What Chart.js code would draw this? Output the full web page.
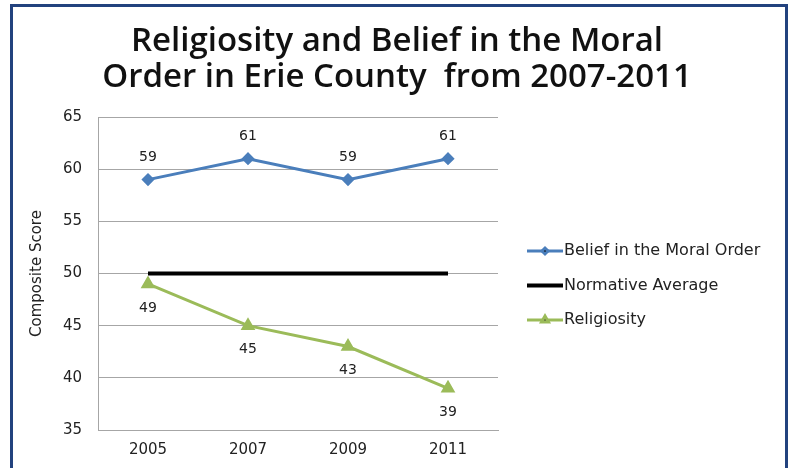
<!DOCTYPE html>
<html>
<head>
<meta charset="utf-8">
<title>Religiosity and Belief in the Moral Order</title>
<script src="https://cdn.jsdelivr.net/npm/chart.js@4"></script>
<style>
    html, body { margin: 0; padding: 0; background: #ffffff; }
    #wrap { position: relative; width: 791px; height: 468px; overflow: hidden; }
    #frame {
        position: absolute; left: 10px; top: 4px; width: 772px; height: 480px;
        border: 3px solid #22427e; border-bottom: none; pointer-events: none;
    }
</style>
</head>
<body>
<div id="wrap">
    <canvas id="moralChart" width="791" height="468"></canvas>
    <div id="frame"></div>
</div>
<script>
// Composite scores by survey year
const years = ['2005', '2007', '2009', '2011'];
const beliefScores = [59, 61, 59, 61];
const normativeScores = [50, 50, 50, 50];
const religiosityScores = [49, 45, 43, 39];
const yMin = 35;
const yMax = 65;
const yStep = 5;

const titleLines = ['Religiosity and Belief in the Moral', 'Order in Erie County  from 2007-2011'];

const blue = '#4a7ebb';
const green = '#9bbb59';
const textColor = '#222222';
const gridColor = '#a6a6a6';
const baseFont = 'DejaVu Sans, sans-serif';

// two-line heading centred across the whole canvas
const heading = {
    id: 'heading',
    afterDraw(chart) {
        const ctx = chart.ctx;
        ctx.save();
        ctx.font = '600 33px "Open Sans", sans-serif';
        ctx.fillStyle = '#111111';
        ctx.textAlign = 'center';
        ctx.textBaseline = 'middle';
        titleLines.forEach((line, i) => ctx.fillText(line, 397, 42 + i * 36));
        ctx.restore();
    }
};

// value labels above or below each marker
const valueLabels = {
    id: 'valueLabels',
    afterDatasetsDraw(chart) {
        const ctx = chart.ctx;
        ctx.save();
        ctx.font = '14px ' + baseFont;
        ctx.fillStyle = textColor;
        ctx.textAlign = 'center';
        ctx.textBaseline = 'middle';
        chart.data.datasets.forEach((ds, i) => {
            if (!ds.labelSide) return;
            const meta = chart.getDatasetMeta(i);
            meta.data.forEach((pt, j) => {
                const dy = ds.labelSide === 'above' ? -22 : 24;
                ctx.fillText(String(ds.data[j]), pt.x, pt.y + dy);
            });
        });
        ctx.restore();
    }
};

// legend on the right, line with marker then text
const sideLegend = {
    id: 'sideLegend',
    afterDraw(chart) {
        const ctx = chart.ctx;
        const x0 = 527, lineLen = 36, y0 = 251, step = 34.5;
        ctx.save();
        chart.data.datasets.forEach((ds, i) => {
            const y = y0 + i * step;
            ctx.strokeStyle = ds.borderColor;
            ctx.lineWidth = ds.borderWidth;
            ctx.beginPath();
            ctx.moveTo(x0, y);
            ctx.lineTo(x0 + lineLen, y);
            ctx.stroke();
            if (ds.pointRadius > 0) {
                Chart.helpers.drawPoint(ctx, {
                    pointStyle: ds.pointStyle,
                    radius: ds.pointRadius - 1.5,
                    borderWidth: 1
                }, x0 + lineLen / 2, y);
            }
            ctx.font = '16px ' + baseFont;
            ctx.fillStyle = textColor;
            ctx.textAlign = 'left';
            ctx.textBaseline = 'middle';
            ctx.fillText(ds.label, x0 + lineLen + 1, y);
        });
        ctx.restore();
    }
};

new Chart(document.getElementById('moralChart'), {
    type: 'line',
    data: {
        labels: years,
        datasets: [
            {
                label: 'Belief in the Moral Order',
                data: beliefScores,
                borderColor: blue,
                backgroundColor: blue,
                borderWidth: 3,
                pointStyle: 'rectRot',
                pointRadius: 4.5,
                labelSide: 'above'
            },
            {
                label: 'Normative Average',
                data: normativeScores,
                borderColor: '#000000',
                backgroundColor: '#000000',
                borderWidth: 4,
                pointRadius: 0
            },
            {
                label: 'Religiosity',
                data: religiosityScores,
                borderColor: green,
                backgroundColor: green,
                borderWidth: 3,
                pointStyle: 'triangle',
                pointRadius: 5.5,
                labelSide: 'below'
            }
        ]
    },
    options: {
        responsive: false,
        animation: false,
        layout: { padding: { top: 117, right: 293, bottom: 0, left: 0 } },
        plugins: {
            legend: { display: false },
            tooltip: { enabled: false },
            title: { display: false }
        },
        scales: {
            x: {
                offset: true,
                grid: { display: false, drawTicks: false },
                border: { color: gridColor },
                ticks: { color: textColor, padding: 11, font: { family: baseFont, size: 15 } },
                afterFit(scale) { scale.height = 38; }
            },
            y: {
                min: yMin,
                max: yMax,
                grid: { color: gridColor, drawTicks: false },
                border: { color: gridColor },
                ticks: { stepSize: yStep, color: textColor, padding: 16, font: { family: baseFont, size: 15 } },
                title: {
                    display: true,
                    text: 'Composite Score',
                    color: textColor,
                    font: { family: baseFont, size: 15 },
                    padding: { top: 28, bottom: 0 }
                },
                afterFit(scale) { scale.width = 98; }
            }
        }
    },
    plugins: [heading, valueLabels, sideLegend]
});
</script>
</body>
</html>
